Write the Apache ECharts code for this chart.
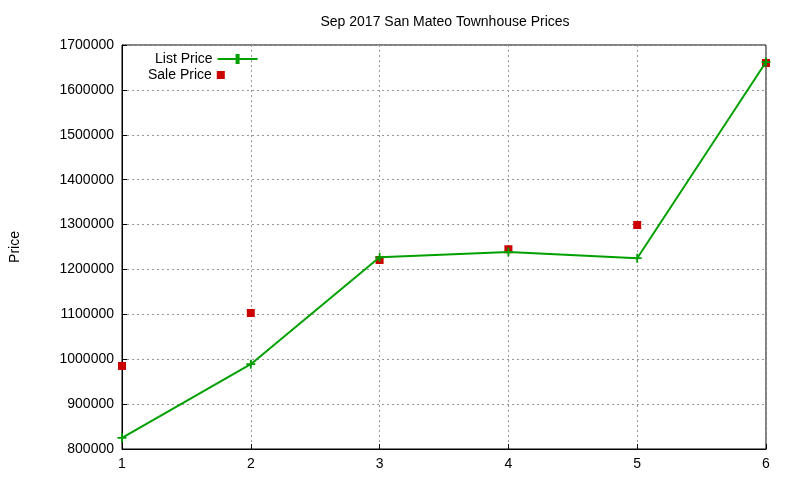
<!DOCTYPE html>
<html><head><meta charset="utf-8">
<script src="https://cdn.jsdelivr.net/npm/echarts@6/dist/echarts.min.js"></script>
<style>html,body{margin:0;padding:0;background:#fff}#c{width:800px;height:480px}</style>
</head><body><div id="c"></div>
<script>
const xValues = [1, 2, 3, 4, 5, 6];
const listPrice = [825000, 989000, 1227000, 1239000, 1225000, 1662000];
const salePrice = [985000, 1103000, 1221000, 1245000, 1299000, 1660000];
const chart = echarts.init(document.getElementById('c'));
const font = 'Liberation Sans, Arial, sans-serif';
const lt = { fontFamily: font, fontSize: 14, color: '#000' };
chart.setOption({
  animation: false,
  title: { text: 'Sep 2017 San Mateo Townhouse Prices', left: 440, top: 10, textAlign: 'center',
    textStyle: { fontFamily: font, fontSize: 14, fontWeight: 'normal', color: '#000' } },
  grid: { left: 119, right: 34, top: 45, bottom: 31, show: true, borderColor: '#000', borderWidth: 1 },
  legend: [
    { left: 150, top: 47, align: 'right', itemGap: 4, itemWidth: 40, itemHeight: 10, textStyle: lt,
      data: [{ name: 'List Price', icon: 'path://M0,4L18,4L18,0L22,0L22,4L40,4L40,6L22,6L22,10L18,10L18,6L0,6Z' }] },
    { left: 143, top: 63, align: 'right', itemGap: 4, itemWidth: 8, itemHeight: 8, textStyle: lt,
      data: [{ name: 'Sale Price', icon: 'rect' }] }
  ],
  xAxis: { type: 'value', min: 1, max: 6, interval: 1,
    axisLine: { lineStyle: { color: '#000' } }, axisTick: { inside: true, lineStyle: { color: '#000' } },
    axisLabel: { fontFamily: font, fontSize: 14, color: '#000' },
    splitLine: { lineStyle: { color: '#999', type: [2, 3] } } },
  yAxis: { type: 'value', min: 800000, max: 1700000, interval: 100000, name: 'Price',
    nameLocation: 'middle', nameGap: 100, nameTextStyle: { fontFamily: font, fontSize: 14, color: '#000' },
    axisLine: { show: true, lineStyle: { color: '#000' } }, axisTick: { inside: true, lineStyle: { color: '#000' } },
    axisLabel: { fontFamily: font, fontSize: 14, color: '#000', formatter: v => String(v) },
    splitLine: { lineStyle: { color: '#999', type: [2, 3] } } },
  series: [
    { name: 'List Price', type: 'line', data: xValues.map((x, i) => [x, listPrice[i]]),
      itemStyle: { color: '#00a000' }, lineStyle: { width: 2, color: '#00a000' },
      symbol: 'path://M4,0L6,0L6,4L10,4L10,6L6,6L6,10L4,10L4,6L0,6L0,4L4,4Z', symbolSize: 9 },
    { name: 'Sale Price', type: 'scatter', data: xValues.map((x, i) => [x, salePrice[i]]),
      itemStyle: { color: '#cc0000', opacity: 1 }, symbol: 'rect', symbolSize: 8 }
  ]
});
</script></body></html>
